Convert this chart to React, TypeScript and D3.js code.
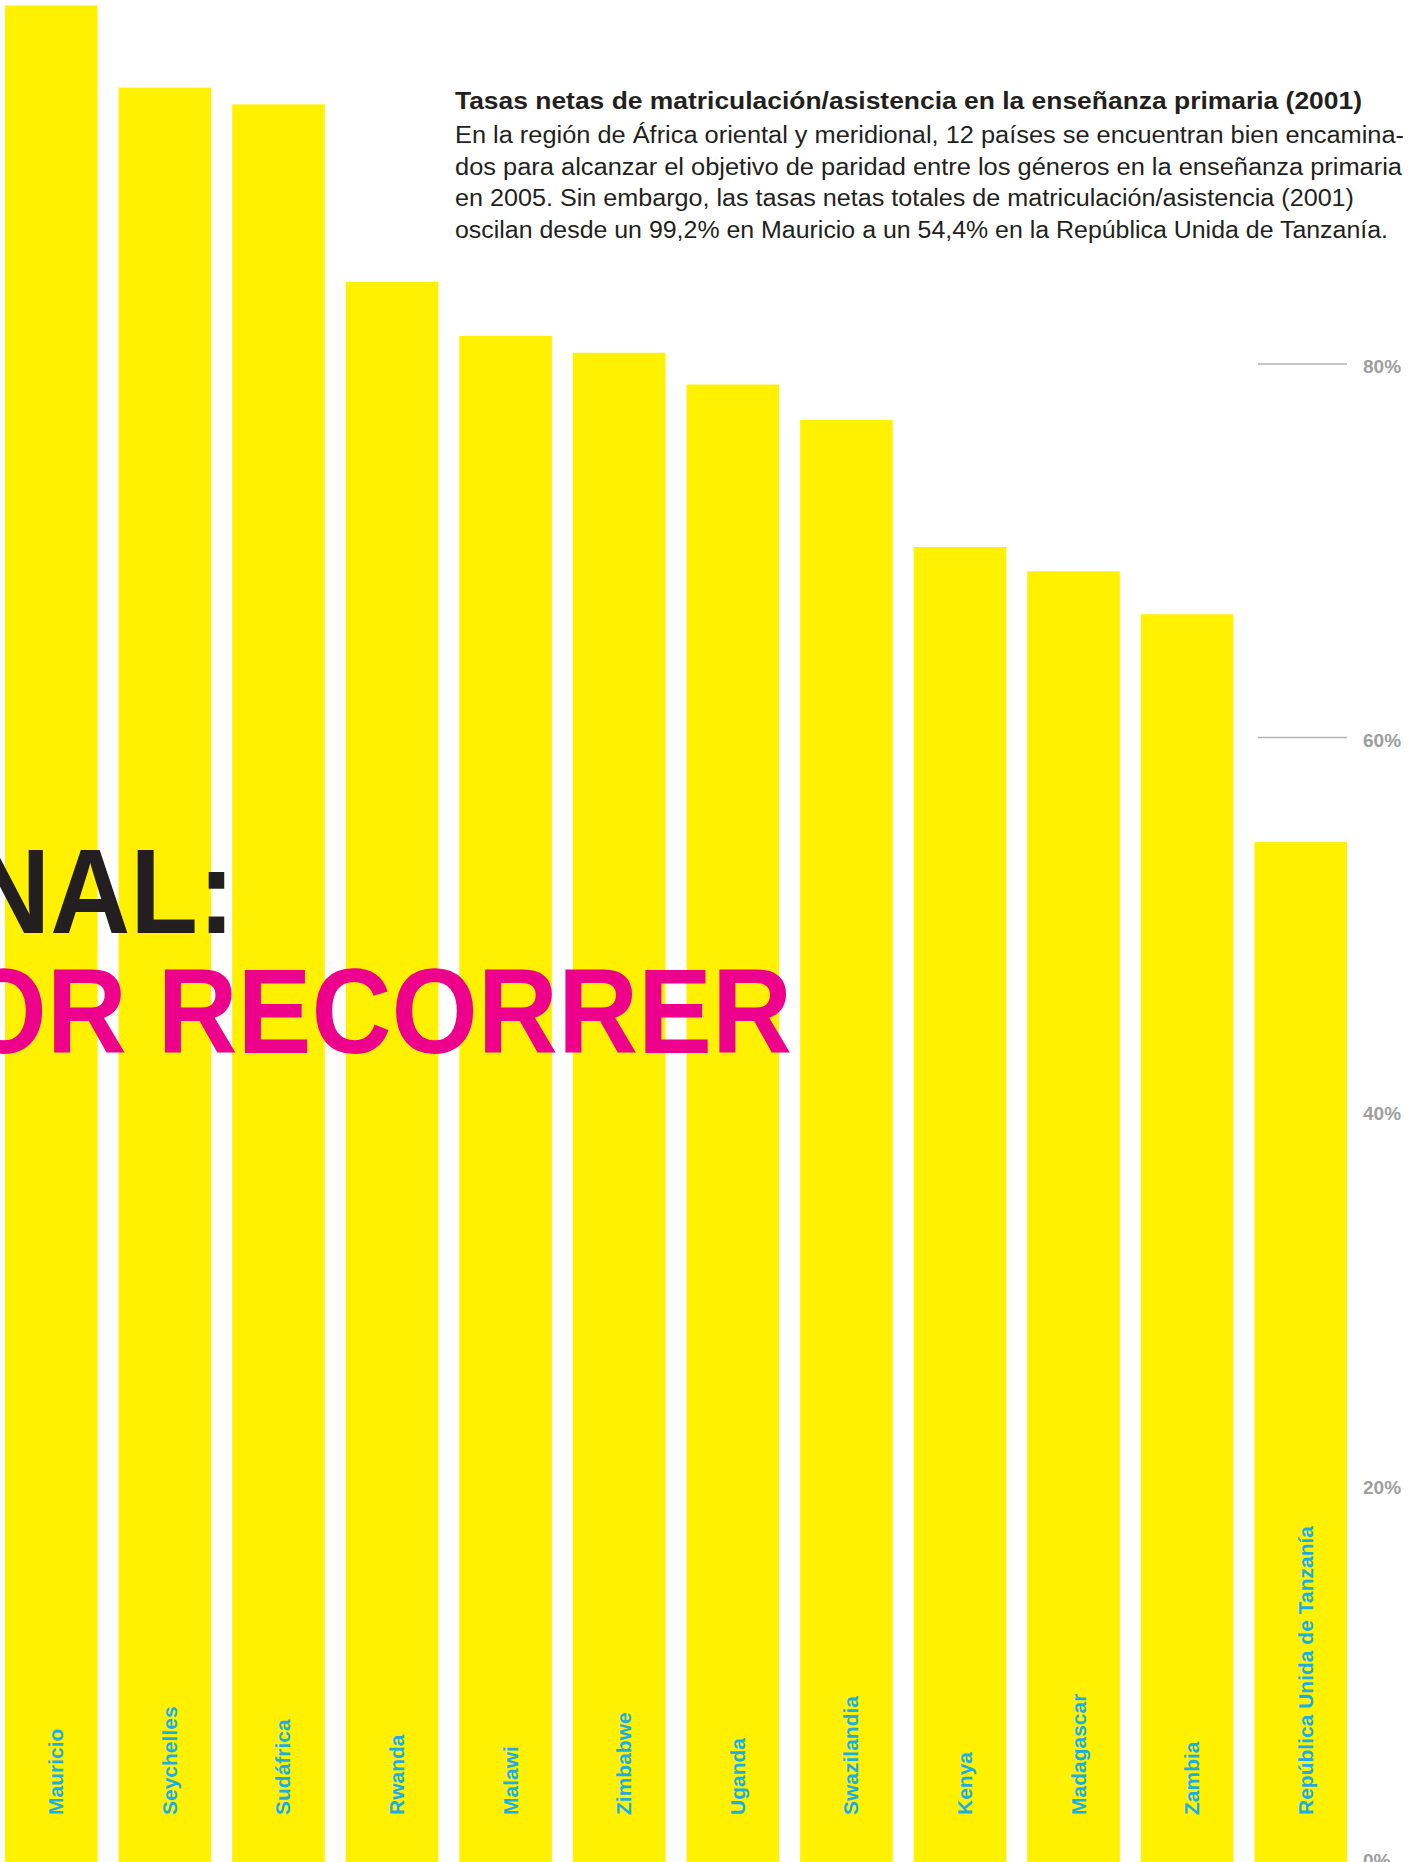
import React from "react";
import * as d3 from "d3";

const countries = [
  "Mauricio",
  "Seychelles",
  "Sudáfrica",
  "Rwanda",
  "Malawi",
  "Zimbabwe",
  "Uganda",
  "Swazilandia",
  "Kenya",
  "Madagascar",
  "Zambia",
  "República Unida de Tanzanía",
];
const rates = [99.2, 94.8, 93.9, 84.4, 81.5, 80.6, 78.9, 77.0, 70.2, 68.9, 66.6, 54.4];
const tickValues = [0, 20, 40, 60, 80, 100];
const tickLabels = ["0%", "20%", "40%", "60%", "80%", "100%"];

const titleText = "Tasas netas de matriculación/asistencia en la enseñanza primaria (2001)";
const bodyLines = [
  "En la región de África oriental y meridional, 12 países se encuentran bien encamina-",
  "dos para alcanzar el objetivo de paridad entre los géneros en la enseñanza primaria",
  "en 2005. Sin embargo, las tasas netas totales de matriculación/asistencia (2001)",
  "oscilan desde un 99,2% en Mauricio a un 54,4% en la República Unida de Tanzanía.",
];
const headlineBlack = "NAL:";
const headlineMagenta = "OR RECORRER";

const W = 1421;
const H = 1862;
const FONT = "'Liberation Sans', Arial, Helvetica, sans-serif";
const YELLOW = "#FFF100";
const CYAN = "#1AAEE6";
const GREY = "#9E9E9E";
const INK = "#231F20";
const MAGENTA = "#EC008C";

export default function App() {
  const x = d3
    .scaleBand<string>()
    .domain(countries)
    .range([5, 1347])
    .paddingInner(0.185)
    .paddingOuter(0);
  const y = d3.scaleLinear().domain([0, 100]).range([1858, -9.5]);
  const bw = x.bandwidth();
  const xEnd = x.range()[1];

  const titleWidths = [907];
  const bodyWidths = [949, 947, 899, 933];
  const bodyBaselines = [143, 175, 206, 238];

  return (
    <svg
      width={W}
      height={H}
      viewBox={`0 0 ${W} ${H}`}
      style={{ position: "absolute", left: 0, top: 0, display: "block", background: "#fff" }}
      fontFamily={FONT}
    >
      <rect x={0} y={0} width={W} height={H} fill="#fff" />
      {/* y-axis ticks */}
      <g>
        {tickValues.map((v, i) => (
          <g key={v}>
            <line
              x1={xEnd - 89}
              x2={xEnd}
              y1={y(v)}
              y2={y(v)}
              stroke="#B3B3B3"
              strokeWidth={1.6}
            />
            <text
              x={1363}
              y={y(v) + 9.3}
              fontSize={19}
              fontWeight="bold"
              fill={GREY}
            >
              {tickLabels[i]}
            </text>
          </g>
        ))}
      </g>
      {/* bars */}
      <g>
        {countries.map((c, i) => (
          <rect
            key={c}
            x={x(c)}
            y={y(rates[i])}
            width={bw}
            height={H - y(rates[i])}
            fill={YELLOW}
          />
        ))}
      </g>
      {/* category labels */}
      <g>
        {countries.map((c) => {
          const cx = (x(c) as number) + bw / 2 + 12;
          return (
            <text
              key={c}
              transform={`translate(${cx},1815) rotate(-90)`}
              fontSize={21}
              fontWeight="bold"
              fill={CYAN}
              textAnchor="start"
            >
              {c}
            </text>
          );
        })}
      </g>
      {/* annotation */}
      <g fill={INK}>
        <text
          x={455}
          y={109}
          fontSize={23}
          fontWeight="bold"
          textLength={titleWidths[0]}
          lengthAdjust="spacingAndGlyphs"
        >
          {titleText}
        </text>
        {bodyLines.map((line, i) => (
          <text
            key={i}
            x={455}
            y={bodyBaselines[i]}
            fontSize={23}
            textLength={bodyWidths[i]}
            lengthAdjust="spacingAndGlyphs"
          >
            {line}
          </text>
        ))}
      </g>
      {/* headline fragments */}
      <text
        transform="translate(235,933) scale(0.924,1)"
        fontSize={120}
        fontWeight="bold"
        fill={INK}
        textAnchor="end"
      >
        {headlineBlack}
      </text>
      <text
        transform="translate(792,1053) scale(0.924,1)"
        fontSize={120}
        fontWeight="bold"
        fill={MAGENTA}
        textAnchor="end"
      >
        {headlineMagenta}
      </text>
    </svg>
  );
}
